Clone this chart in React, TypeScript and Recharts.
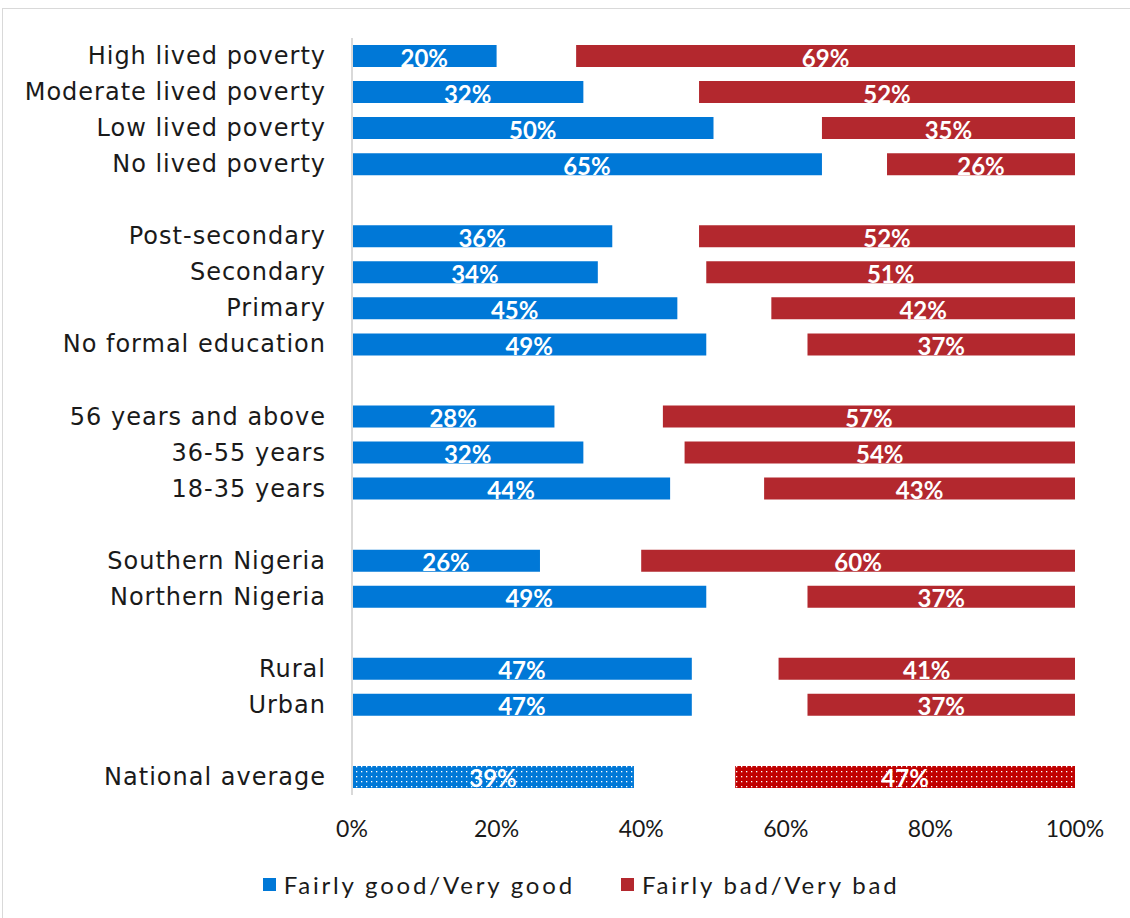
import React from 'react'
import { BarChart, Bar, XAxis, YAxis, Cell, LabelList, Legend } from 'recharts'

const BLUE = '#0078D7'
const RED = '#B3282E'
const RED_AVG = '#C00000'

// empty strings are the spacer rows between groups
const categories = [
  'High lived poverty', 'Moderate lived poverty', 'Low lived poverty', 'No lived poverty', '',
  'Post-secondary', 'Secondary', 'Primary', 'No formal education', '',
  '56 years and above', '36-55 years', '18-35 years', '',
  'Southern Nigeria', 'Northern Nigeria', '',
  'Rural', 'Urban', '',
  'National average',
]
const goodValues = [20, 32, 50, 65, null, 36, 34, 45, 49, null, 28, 32, 44, null, 26, 49, null, 47, 47, null, 39]
const badValues = [69, 52, 35, 26, null, 52, 51, 42, 37, null, 57, 54, 43, null, 60, 37, null, 41, 37, null, 47]
const xTicks = [0, 20, 40, 60, 80, 100]

const data = categories.map((name, i) => {
  const good = goodValues[i]
  const bad = badValues[i]
  return {
    key: `r${i}`,
    name,
    good,
    gap: good == null || bad == null ? null : 100 - good - bad,
    bad,
    avg: name === 'National average',
  }
})

const FONT = 'Lato, "Open Sans", sans-serif'
const LABEL_FONT = '"DejaVu Sans", Lato, sans-serif'

const CategoryTick = ({ x, y, payload }: any) => {
  const row = data.find((d) => d.key === payload.value)
  if (!row || !row.name) return null
  return (
    <text x={x - 18} y={y} dy={8} textAnchor="end" fontSize={24} fill="#1a1a1a" fontFamily={LABEL_FONT} letterSpacing={1}>
      {row.name}
    </text>
  )
}

const renderLegend = () => (
  <div style={{ display: 'flex', justifyContent: 'center', gap: 46, fontFamily: FONT, fontSize: 24, color: '#1a1a1a', paddingLeft: 32 }}>
    {[
      { label: 'Fairly good/Very good', color: BLUE },
      { label: 'Fairly bad/Very bad', color: RED },
    ].map((item) => (
      <div key={item.label} style={{ display: 'flex', alignItems: 'center', gap: 8 }}>
        <div style={{ width: 13, height: 13, background: item.color }} />
        <span style={{ letterSpacing: 2.8 }}>{item.label}</span>
      </div>
    ))}
  </div>
)

const pct = (v: any) => (v == null ? '' : `${v}%`)

export default function App() {
  return (
    <div style={{ position: 'absolute', left: 0, top: 0, width: 1130, height: 918, background: '#fff', overflow: 'hidden' }}>
      <div style={{ position: 'absolute', left: 2, top: 8, width: 1140, height: 930, border: '1px solid #d9d9d9' }} />
      <BarChart
        width={1130}
        height={918}
        data={data}
        layout="vertical"
        margin={{ top: 38, right: 55, bottom: 54, left: 12 }}
        style={{ position: 'absolute', left: 0, top: 0 }}
      >
        <defs>
          <pattern id="dotsBlue" width="5" height="5" patternUnits="userSpaceOnUse">
            <rect width="5" height="5" fill={BLUE} />
            <rect x="1" y="1" width="1.3" height="1.3" fill="#fff" />
          </pattern>
          <pattern id="dotsRed" width="5" height="5" patternUnits="userSpaceOnUse">
            <rect width="5" height="5" fill={RED_AVG} />
            <rect x="1" y="1" width="1.3" height="1.3" fill="#fff" />
          </pattern>
        </defs>
        <XAxis
          type="number"
          domain={[0, 100]}
          ticks={xTicks}
          tickFormatter={pct}
          axisLine={false}
          tickLine={false}
          tick={{ fontSize: 23, fill: '#1a1a1a', fontFamily: FONT }}
          tickMargin={20}
          height={40}
        />
        <YAxis
          type="category"
          dataKey="key"
          width={340}
          tick={<CategoryTick />}
          tickLine={false}
          axisLine={{ stroke: '#d9d9d9', strokeWidth: 2 }}
          interval={0}
        />
        <Legend
          content={renderLegend}
          wrapperStyle={{ top: 870, bottom: 'auto', left: 0, width: 1130 }}
        />
        <Bar dataKey="good" stackId="a" barSize={22} isAnimationActive={false} legendType="square">
          {data.map((d) => (
            <Cell key={d.key} fill={d.avg ? 'url(#dotsBlue)' : BLUE} />
          ))}
          <LabelList dataKey="good" position="center" formatter={pct} fill="#fff" fontSize={24} fontWeight={700} fontFamily={FONT} dy={2} />
        </Bar>
        <Bar dataKey="gap" stackId="a" barSize={22} fill="transparent" isAnimationActive={false} legendType="none" />
        <Bar dataKey="bad" stackId="a" barSize={22} isAnimationActive={false} legendType="square">
          {data.map((d) => (
            <Cell key={d.key} fill={d.avg ? 'url(#dotsRed)' : RED} />
          ))}
          <LabelList dataKey="bad" position="center" formatter={pct} fill="#fff" fontSize={24} fontWeight={700} fontFamily={FONT} dy={2} />
        </Bar>
      </BarChart>
    </div>
  )
}
